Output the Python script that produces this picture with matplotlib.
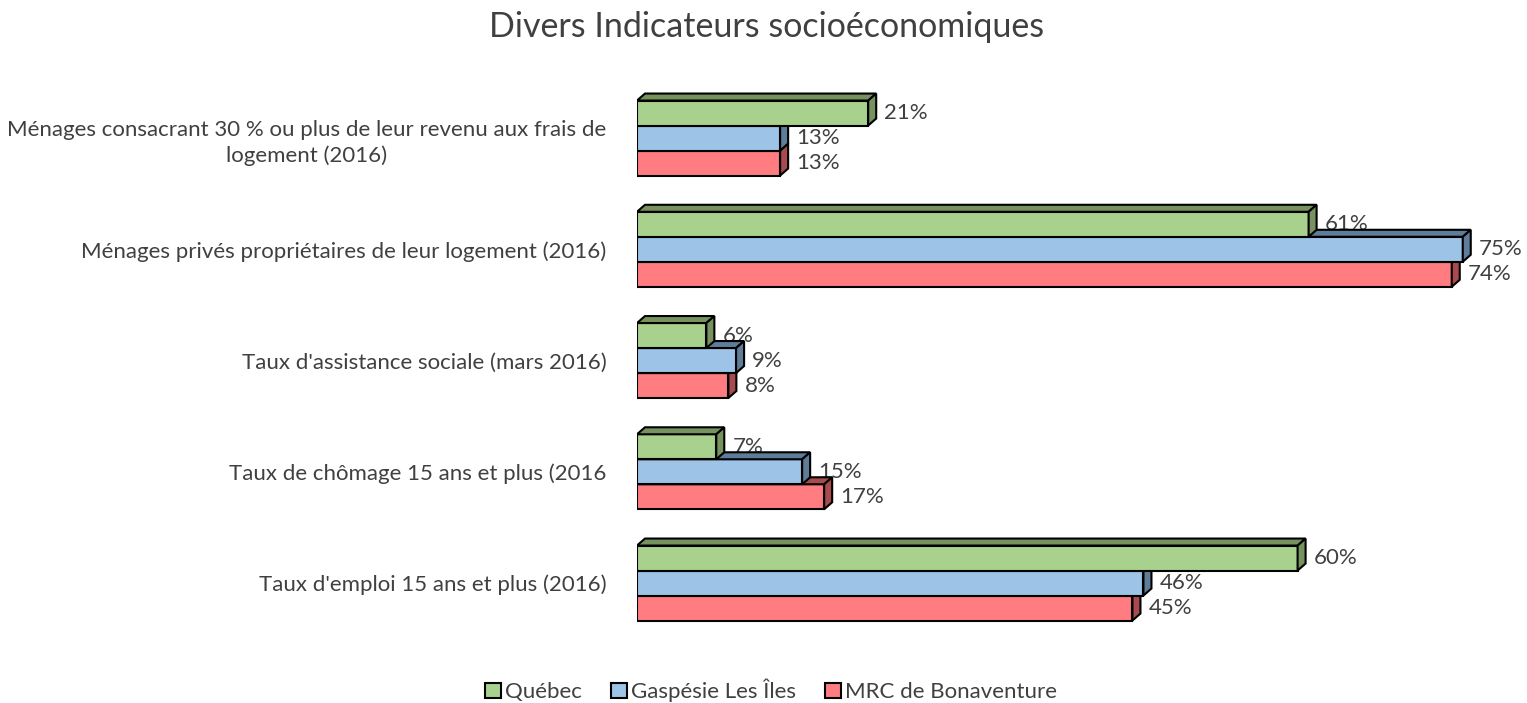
import matplotlib.pyplot as plt
from matplotlib.patches import Polygon, Patch

plt.rcParams['font.family'] = ['Lato', 'DejaVu Sans']

# data (bottom to top on the chart)
categories = ["Taux d'emploi 15 ans et plus (2016)",
              "Taux de chômage 15 ans et plus (2016",
              "Taux d'assistance sociale (mars 2016)",
              "Ménages privés propriétaires de leur logement (2016)",
              "Ménages consacrant 30 % ou plus de leur revenu aux frais de\nlogement (2016)"]
series = ["Québec", "Gaspésie Les Îles", "MRC de Bonaventure"]
quebec = [60, 7.2, 6.3, 61, 21]
gaspesie = [46, 15, 9, 75, 13]
bonaventure = [45, 17, 8.3, 74, 13]

front = ['#A9D18E', '#9DC3E6', '#FF7C80']
side = ['#76925F', '#5F7C98', '#A84B4E']
text_col = '#404040'

fig = plt.figure(figsize=(15.27, 7.03), dpi=100)
px_x = 11.01           # pixels per percent
ax = fig.add_axes([637 / 1527, 0.0757, 77 * px_x / 1527, 0.8229])
ax.set_xlim(0, 77)
ax.set_ylim(-0.6, 4.6)

bh = 0.2247
dx = 8 / px_x
dy = 7 / 111.25

# draw bottom row of each group first so upper bars sit on top
for s, vals, off in [(2, bonaventure, -bh), (1, gaspesie, 0), (0, quebec, bh)]:
    for i, v in enumerate(vals):
        yc = i + off
        y0, y1 = yc - bh / 2, yc + bh / 2
        ax.add_patch(Polygon([(0, y0), (v, y0), (v, y1), (0, y1)], closed=True,
                             fc=front[s], ec='black', lw=1.5, zorder=3))
        ax.add_patch(Polygon([(0, y1), (v, y1), (v + dx, y1 + dy), (dx, y1 + dy)],
                             closed=True, fc=side[s], ec='black', lw=1.5, zorder=3))
        ax.add_patch(Polygon([(v, y0), (v + dx, y0 + dy), (v + dx, y1 + dy), (v, y1)],
                             closed=True, fc=side[s], ec='black', lw=1.5, zorder=3))
        ax.text(v + dx + 0.75, yc, f"{v:.0f}%", va='center', ha='left',
                fontsize=16, color=text_col, zorder=2)

ax.set_yticks(range(len(categories)))
ax.set_yticklabels(categories, fontsize=16, color=text_col, multialignment='center',
                   linespacing=1.35)
ax.tick_params(axis='y', length=0, pad=22)
ax.set_xticks([])
for sp in ax.spines.values():
    sp.set_visible(False)

fig.text(0.502, 0.962, "Divers Indicateurs socioéconomiques", ha='center', va='center',
         fontsize=24.5, color=text_col)

handles = [Patch(fc=front[k], ec='black', lw=1.5) for k in range(3)]
fig.legend(handles, series, loc='center', bbox_to_anchor=(0.505, 0.018), ncol=3,
           frameon=False, fontsize=16, labelcolor=text_col, handlelength=0.7,
           handleheight=0.7, handletextpad=0.2, columnspacing=1.3)

fig.savefig('out.png', dpi=100)
